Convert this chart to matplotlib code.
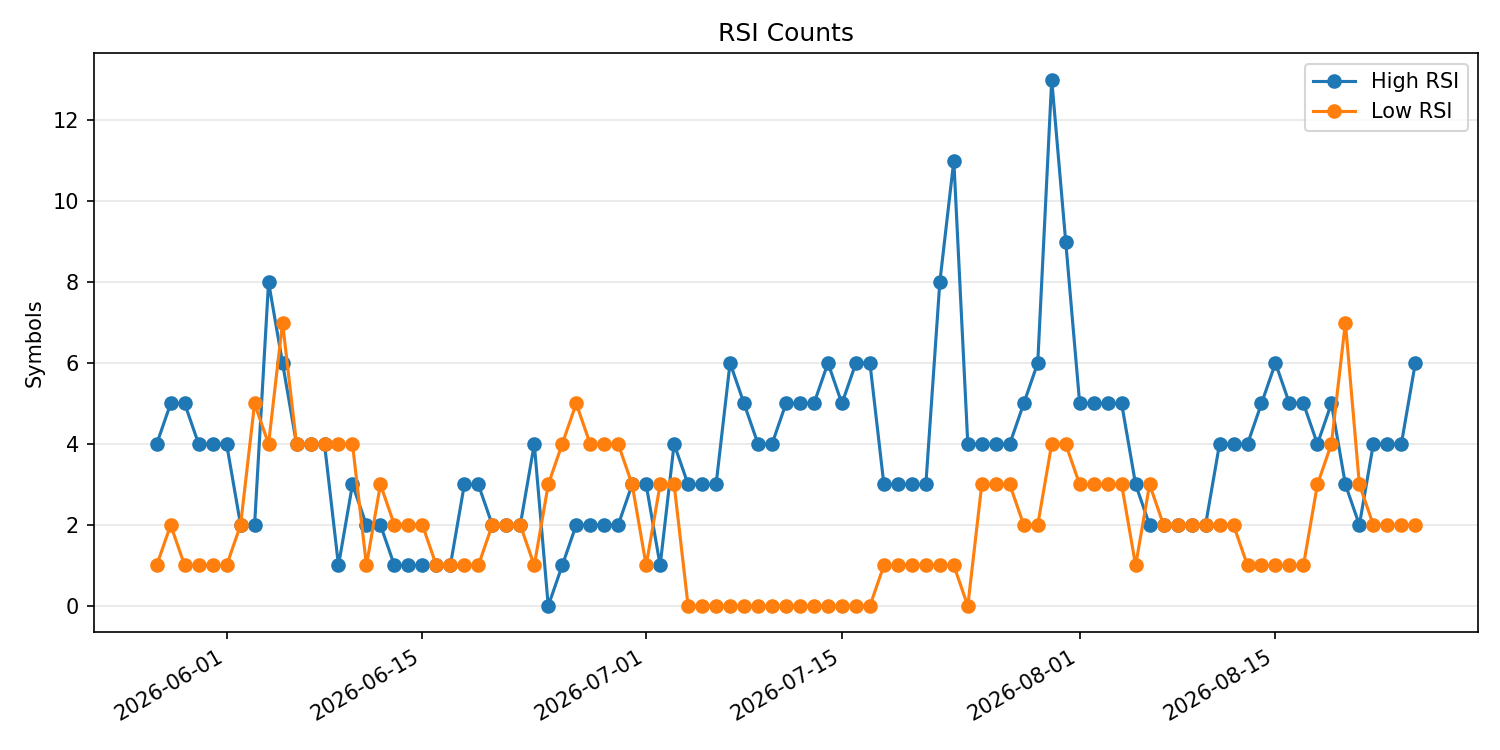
import matplotlib
matplotlib.use("Agg")
import matplotlib.pyplot as plt
import pandas as pd

start_date = "2026-05-27"
high_rsi = [4, 5, 5, 4, 4, 4, 2, 2, 8, 6, 4, 4, 4, 1, 3, 2, 2, 1, 1, 1,
            1, 1, 3, 3, 2, 2, 2, 4, 0, 1, 2, 2, 2, 2, 3, 3, 1, 4, 3, 3,
            3, 6, 5, 4, 4, 5, 5, 5, 6, 5, 6, 6, 3, 3, 3, 3, 8, 11, 4, 4,
            4, 4, 5, 6, 13, 9, 5, 5, 5, 5, 3, 2, 2, 2, 2, 2, 4, 4, 4, 5,
            6, 5, 5, 4, 5, 3, 2, 4, 4, 4, 6]
low_rsi = [1, 2, 1, 1, 1, 1, 2, 5, 4, 7, 4, 4, 4, 4, 4, 1, 3, 2, 2, 2,
           1, 1, 1, 1, 2, 2, 2, 1, 3, 4, 5, 4, 4, 4, 3, 1, 3, 3, 0, 0,
           0, 0, 0, 0, 0, 0, 0, 0, 0, 0, 0, 0, 1, 1, 1, 1, 1, 1, 0, 3,
           3, 3, 2, 2, 4, 4, 3, 3, 3, 3, 1, 3, 2, 2, 2, 2, 2, 2, 1, 1,
           1, 1, 1, 3, 4, 7, 3, 2, 2, 2, 2]
dates = pd.date_range(start_date, periods=len(high_rsi), freq="D")

fig, ax = plt.subplots(figsize=(10, 5), dpi=150)
ax.plot(dates, high_rsi, marker="o", label="High RSI")
ax.plot(dates, low_rsi, marker="o", label="Low RSI")
ax.set_title("RSI Counts")
ax.set_ylabel("Symbols")
ax.grid(axis="y", alpha=0.3)
ax.legend(loc="upper right")
fig.autofmt_xdate()
fig.subplots_adjust(left=0.0625, right=0.9855, bottom=0.157, top=0.929)
fig.savefig("out.png")
